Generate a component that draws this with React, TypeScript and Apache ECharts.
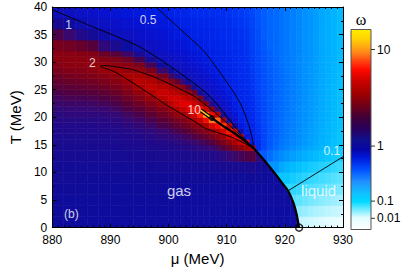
import React, { useEffect, useRef } from 'react';
import * as echarts from 'echarts';

// ---------- data ----------
// cell edges of the omega map (MeV)
const muEdges = [880, 882, 884, 886, 888, 890, 892, 894, 896, 898, 900, 901, 902, 903, 904, 905, 906, 907, 908, 909, 910, 911, 912, 913, 914, 915, 916, 917, 918, 919, 920, 921, 922, 923, 924, 925, 926, 927, 928, 929, 930];
const tEdges = [0, 2, 4, 6, 8, 10, 12, 14, 15, 16, 17, 18, 19, 20, 21, 22, 23, 24, 25, 26, 27, 28, 29, 30, 31, 32, 34, 36, 38, 40];

// omega, west part (mu 880..915): one array per column, cells from T = 0-2 up to T = 38-40
const omegaWestColumns: number[][] = [
  [1.23, 1.24, 1.26, 1.27, 1.29, 1.31, 1.34, 1.36, 1.38, 1.4, 1.42, 1.44, 1.47, 1.49, 1.52, 1.56, 1.59, 1.63, 1.68, 1.72, 1.77, 1.83, 1.89, 1.95, 1.92, 1.82, 1.63, 1.35, 1.02], // 881
  [1.23, 1.24, 1.25, 1.27, 1.29, 1.31, 1.34, 1.36, 1.38, 1.4, 1.42, 1.44, 1.47, 1.5, 1.53, 1.57, 1.61, 1.65, 1.69, 1.75, 1.8, 1.86, 1.93, 1.96, 1.92, 1.79, 1.55, 1.23, 0.93], // 883
  [1.23, 1.24, 1.25, 1.26, 1.28, 1.3, 1.33, 1.355, 1.37, 1.39, 1.42, 1.44, 1.47, 1.5, 1.53, 1.57, 1.61, 1.66, 1.71, 1.76, 1.82, 1.89, 1.96, 1.96, 1.9, 1.74, 1.45, 1.07, 0.85], // 885
  [1.22, 1.23, 1.25, 1.26, 1.28, 1.3, 1.33, 1.35, 1.37, 1.39, 1.415, 1.44, 1.47, 1.5, 1.54, 1.58, 1.62, 1.67, 1.73, 1.79, 1.85, 1.93, 2.0, 1.95, 1.87, 1.67, 1.32, 0.93, 0.8], // 887
  [1.22, 1.23, 1.24, 1.26, 1.27, 1.3, 1.33, 1.35, 1.37, 1.39, 1.42, 1.45, 1.48, 1.51, 1.55, 1.6, 1.645, 1.7, 1.76, 1.83, 1.905, 2.08, 2.05, 1.89, 1.76, 1.51, 1.11, 0.85, 0.72], // 889
  [1.22, 1.23, 1.24, 1.25, 1.27, 1.3, 1.33, 1.355, 1.375, 1.4, 1.43, 1.46, 1.49, 1.53, 1.58, 1.63, 1.68, 1.75, 1.82, 1.9, 1.99, 2.3, 1.97, 1.84, 1.68, 1.38, 0.96, 0.8, 0.66], // 891
  [1.22, 1.23, 1.24, 1.26, 1.28, 1.3, 1.34, 1.37, 1.395, 1.42, 1.46, 1.49, 1.535, 1.58, 1.64, 1.7, 1.765, 1.84, 1.93, 2.11, 2.6, 2.06, 1.93, 1.77, 1.57, 1.19, 0.88, 0.72, 0.61], // 893
  [1.21, 1.22, 1.24, 1.26, 1.28, 1.31, 1.35, 1.38, 1.41, 1.44, 1.48, 1.52, 1.57, 1.63, 1.69, 1.77, 1.85, 2.0, 2.5, 3.0, 2.5, 2.02, 1.82, 1.61, 1.37, 0.98, 0.8, 0.67, 0.57], // 895
  [1.21, 1.22, 1.24, 1.26, 1.28, 1.31, 1.36, 1.4, 1.43, 1.47, 1.51, 1.565, 1.62, 1.69, 1.77, 1.86, 2.05, 2.75, 3.4, 2.75, 2.15, 1.83, 1.61, 1.34, 1.03, 0.88, 0.73, 0.62, 0.53], // 897
  [1.21, 1.22, 1.24, 1.26, 1.28, 1.32, 1.37, 1.42, 1.455, 1.5, 1.55, 1.62, 1.69, 1.77, 1.87, 2.1, 3.0, 3.9, 2.95, 2.2, 1.82, 1.56, 1.25, 0.976, 0.9, 0.8, 0.68, 0.58, 0.5], // 899
  [1.21, 1.22, 1.23, 1.25, 1.28, 1.32, 1.37, 1.43, 1.47, 1.52, 1.59, 1.66, 1.75, 1.85, 2.1, 3.0, 4.3, 3.4, 2.4, 1.88, 1.6, 1.24, 0.967, 0.89, 0.818, 0.72, 0.61, 0.52, 0.48], // 900.5
  [1.2, 1.21, 1.23, 1.25, 1.28, 1.32, 1.38, 1.44, 1.49, 1.55, 1.62, 1.7, 1.8, 2.02, 2.6, 4.2, 4.3, 2.9, 2.1, 1.74, 1.38, 0.99, 0.909, 0.834, 0.764, 0.67, 0.57, 0.49, 0.47], // 901.5
  [1.2, 1.21, 1.23, 1.25, 1.28, 1.32, 1.38, 1.45, 1.505, 1.57, 1.65, 1.75, 1.86, 2.0, 3.5, 5.0, 3.8, 2.4, 1.86, 1.53, 1.1, 0.931, 0.852, 0.78, 0.714, 0.62, 0.52, 0.48, 0.46], // 902.5
  [1.2, 1.21, 1.22, 1.25, 1.28, 1.32, 1.39, 1.465, 1.53, 1.6, 1.69, 1.8, 1.94, 2.9, 4.86, 4.98, 3.2, 2.1, 1.66, 1.21, 0.947, 0.864, 0.789, 0.72, 0.657, 0.57, 0.49, 0.47, 0.45], // 903.5
  [1.2, 1.21, 1.22, 1.24, 1.28, 1.33, 1.4, 1.485, 1.555, 1.64, 1.75, 1.88, 2.5, 4.23, 6.2, 4.02, 2.4, 1.77, 1.29, 0.955, 0.871, 0.795, 0.725, 0.661, 0.604, 0.53, 0.48, 0.46, 0.44], // 904.5
  [1.2, 1.21, 1.22, 1.24, 1.28, 1.33, 1.41, 1.5, 1.58, 1.68, 1.81, 1.96, 3.49, 7.0, 6.26, 2.65, 1.83, 1.32, 0.955, 0.872, 0.796, 0.727, 0.663, 0.605, 0.553, 0.49, 0.47, 0.455, 0.44], // 905.5
  [1.19, 1.2, 1.22, 1.24, 1.27, 1.33, 1.42, 1.52, 1.62, 1.73, 1.88, 2.53, 6.05, 10.5, 3.97, 1.9, 1.39, 0.962, 0.873, 0.792, 0.719, 0.653, 0.593, 0.538, 0.497, 0.48, 0.465, 0.45, 0.435], // 906.5
  [1.19, 1.2, 1.21, 1.24, 1.27, 1.33, 1.44, 1.55, 1.66, 1.81, 1.99, 4.49, 9.5, 6.19, 1.92, 1.41, 0.959, 0.865, 0.779, 0.702, 0.632, 0.569, 0.514, 0.49, 0.48, 0.47, 0.455, 0.445, 0.43], // 907.5
  [1.19, 1.2, 1.21, 1.23, 1.27, 1.34, 1.46, 1.6, 1.74, 1.91, 2.94, 6.1, 9.0, 3.0, 1.5, 0.966, 0.862, 0.768, 0.685, 0.611, 0.545, 0.495, 0.485, 0.475, 0.47, 0.46, 0.45, 0.44, 0.425], // 908.5
  [1.19, 1.2, 1.21, 1.23, 1.27, 1.35, 1.49, 1.66, 1.83, 2.22, 4.47, 7.98, 2.6, 1.29, 0.922, 0.82, 0.73, 0.65, 0.578, 0.515, 0.49, 0.48, 0.47, 0.465, 0.46, 0.45, 0.44, 0.43, 0.42], // 909.5
  [1.19, 1.19, 1.2, 1.23, 1.27, 1.36, 1.53, 1.75, 1.97, 3.49, 6.58, 3.5, 1.2, 0.86, 0.758, 0.668, 0.589, 0.52, 0.49, 0.48, 0.47, 0.465, 0.46, 0.455, 0.45, 0.44, 0.43, 0.42, 0.41], // 910.5
  [1.19, 1.19, 1.2, 1.22, 1.27, 1.36, 1.56, 1.85, 2.56, 5.21, 6.0, 1.3, 0.753, 0.63, 0.527, 0.49, 0.48, 0.47, 0.465, 0.46, 0.455, 0.45, 0.445, 0.44, 0.435, 0.43, 0.42, 0.41, 0.4], // 911.5
  [1.19, 1.19, 1.2, 1.22, 1.26, 1.36, 1.6, 1.97, 3.95, 6.0, 1.1, 0.552, 0.49, 0.48, 0.47, 0.465, 0.46, 0.455, 0.45, 0.445, 0.44, 0.435, 0.43, 0.425, 0.42, 0.42, 0.41, 0.4, 0.39], // 912.5
  [1.19, 1.19, 1.2, 1.21, 1.25, 1.36, 1.63, 2.42, 6.0, 0.6, 0.49, 0.48, 0.47, 0.465, 0.46, 0.455, 0.45, 0.445, 0.44, 0.435, 0.43, 0.425, 0.42, 0.415, 0.41, 0.41, 0.4, 0.39, 0.38], // 913.5
  [1.185, 1.19, 1.2, 1.23, 1.28, 1.4, 1.68, 3.0, 0.5, 0.48, 0.47, 0.46, 0.45, 0.44, 0.435, 0.425, 0.42, 0.41, 0.405, 0.4, 0.395, 0.39, 0.385, 0.383, 0.38, 0.375, 0.37, 0.365, 0.36], // 914.5
];

// omega, east part (mu 915..930, cell centres 915.5 .. 929.5): one array per row, from T = 0-2 up to T = 38-40
const omegaEastRows: number[][] = [
  [1.19, 1.19, 1.19, 1.19, 1.19, 1.19, 1.19, 0.026, 0.023, 0.021, 0.019, 0.017, 0.015, 0.014, 0.013], // 0-2
  [1.19, 1.19, 1.19, 1.19, 1.19, 1.19, 1.19, 0.045, 0.04, 0.036, 0.033, 0.03, 0.027, 0.025, 0.023], // 2-4
  [1.2, 1.2, 1.2, 1.2, 1.2, 1.2, 0.072, 0.066, 0.06, 0.055, 0.05, 0.046, 0.042, 0.039, 0.036], // 4-6
  [1.21, 1.21, 1.21, 1.21, 1.21, 1.21, 0.095, 0.088, 0.082, 0.076, 0.071, 0.066, 0.061, 0.057, 0.053], // 6-8
  [1.26, 1.24, 1.23, 1.22, 1.22, 0.13, 0.118, 0.108, 0.101, 0.094, 0.088, 0.082, 0.077, 0.072, 0.068], // 8-10
  [1.33, 1.28, 1.26, 0.21, 0.18, 0.162, 0.148, 0.137, 0.128, 0.12, 0.113, 0.106, 0.1, 0.094, 0.089], // 10-12
  [1.5, 0.32, 0.28, 0.25, 0.228, 0.21, 0.194, 0.18, 0.168, 0.157, 0.147, 0.138, 0.13, 0.122, 0.115], // 12-14
  [0.43, 0.355, 0.315, 0.285, 0.262, 0.242, 0.224, 0.208, 0.194, 0.18, 0.167, 0.155, 0.144, 0.135, 0.126], // 14-15
  [0.42, 0.362, 0.325, 0.296, 0.273, 0.253, 0.235, 0.219, 0.204, 0.19, 0.176, 0.164, 0.152, 0.142, 0.132], // 15-16
  [0.412, 0.365, 0.33, 0.302, 0.279, 0.259, 0.241, 0.224, 0.209, 0.194, 0.18, 0.167, 0.155, 0.144, 0.134], // 16-17
  [0.407, 0.363, 0.33, 0.304, 0.282, 0.262, 0.244, 0.227, 0.212, 0.197, 0.183, 0.17, 0.158, 0.147, 0.137], // 17-18
  [0.402, 0.36, 0.33, 0.305, 0.283, 0.264, 0.246, 0.229, 0.214, 0.199, 0.185, 0.171, 0.159, 0.148, 0.138], // 18-19
  [0.397, 0.358, 0.329, 0.305, 0.284, 0.265, 0.248, 0.231, 0.216, 0.201, 0.187, 0.173, 0.161, 0.15, 0.14], // 19-20
  [0.392, 0.356, 0.328, 0.304, 0.285, 0.266, 0.249, 0.232, 0.217, 0.202, 0.188, 0.174, 0.161, 0.15, 0.14], // 20-21
  [0.387, 0.354, 0.327, 0.304, 0.285, 0.267, 0.25, 0.233, 0.218, 0.203, 0.189, 0.175, 0.162, 0.151, 0.141], // 21-22
  [0.383, 0.352, 0.326, 0.303, 0.285, 0.267, 0.25, 0.234, 0.219, 0.204, 0.19, 0.176, 0.163, 0.152, 0.142], // 22-23
  [0.379, 0.349, 0.324, 0.303, 0.285, 0.268, 0.251, 0.235, 0.22, 0.205, 0.191, 0.177, 0.164, 0.153, 0.143], // 23-24
  [0.375, 0.347, 0.323, 0.302, 0.285, 0.268, 0.252, 0.236, 0.221, 0.206, 0.192, 0.178, 0.165, 0.154, 0.144], // 24-25
  [0.371, 0.344, 0.322, 0.301, 0.285, 0.268, 0.252, 0.236, 0.221, 0.207, 0.193, 0.179, 0.166, 0.155, 0.145], // 25-26
  [0.367, 0.341, 0.321, 0.3, 0.285, 0.268, 0.252, 0.236, 0.221, 0.207, 0.193, 0.179, 0.167, 0.156, 0.146], // 26-27
  [0.364, 0.339, 0.319, 0.299, 0.284, 0.267, 0.252, 0.236, 0.221, 0.208, 0.194, 0.18, 0.168, 0.157, 0.147], // 27-28
  [0.362, 0.337, 0.317, 0.297, 0.282, 0.266, 0.251, 0.235, 0.22, 0.209, 0.195, 0.18, 0.169, 0.158, 0.148], // 28-29
  [0.36, 0.335, 0.315, 0.295, 0.28, 0.265, 0.25, 0.235, 0.22, 0.21, 0.195, 0.18, 0.17, 0.16, 0.15], // 29-30
  [0.357, 0.332, 0.312, 0.292, 0.275, 0.265, 0.25, 0.235, 0.22, 0.21, 0.195, 0.18, 0.17, 0.16, 0.15], // 30-31
  [0.355, 0.33, 0.31, 0.29, 0.275, 0.265, 0.25, 0.235, 0.22, 0.21, 0.195, 0.18, 0.17, 0.16, 0.15], // 31-32
  [0.35, 0.325, 0.3, 0.29, 0.275, 0.265, 0.25, 0.235, 0.22, 0.21, 0.195, 0.18, 0.17, 0.16, 0.15], // 32-34
  [0.345, 0.315, 0.3, 0.29, 0.275, 0.265, 0.25, 0.235, 0.22, 0.21, 0.195, 0.18, 0.17, 0.16, 0.15], // 34-36
  [0.335, 0.315, 0.3, 0.29, 0.275, 0.265, 0.25, 0.235, 0.22, 0.21, 0.195, 0.18, 0.17, 0.16, 0.15], // 36-38
  [0.335, 0.315, 0.3, 0.29, 0.275, 0.265, 0.25, 0.235, 0.22, 0.21, 0.195, 0.18, 0.17, 0.16, 0.15], // 38-40
];

// contour lines
const contour1Mu = [880, 887, 894.8, 899.5, 903.06, 906.36, 908.3, 910.0, 911.87, 913.3, 914.6];
const contour1T = [39.5, 36.4, 32.9, 29.8, 27.2, 24.5, 22.4, 20.2, 17.7, 15.9, 14.4];
const contour05Mu = [897.8, 902, 905.8, 907.19, 909.67, 912.3, 913.8, 914.45, 914.6];
const contour05T = [40, 36.0, 32.3, 30.5, 26.9, 22.6, 18.6, 15.8, 14.4];
const contour2Mu = [893.7, 898, 902, 904.7, 908.6, 913, 914.6, 910.8, 906.4, 904.7, 900, 896.4, 891, 889, 888.3, 889, 890, 893.7];
const contour2T = [28.7, 27.1, 25.1, 23.6, 20.3, 16.1, 14.4, 16.4, 17.96, 19.1, 22, 24.5, 28.1, 28.95, 29.25, 29.4, 29.3, 28.7];
const contour01Mu = [920.6, 930];
const contour01T = [6.7, 12.85];
const contour10Mu = [905.5, 907.3];
const contour10T = [21.3, 19.95];

// thick line: along the ridge to the critical point, then the phase boundary
const ridgeMu = [907.47, 909.7, 911.87, 914.6];
const ridgeT = [19.86, 18.2, 16.7, 14.4];
const boundaryMu = [914.6, 916.0, 917.4, 918.6, 919.6, 920.6, 921.5, 922.05, 922.35, 922.45];
const boundaryT = [14.4, 12.75, 11.0, 9.4, 8.0, 6.6, 4.4, 2.3, 0.5, 0];
const dotMu = [907.47];
const dotT = [19.86];
const endMu = [922.45];
const endT = [0];

// annotations
const labelTexts = ['1', '0.5', '2', '10', '0.1', 'liquid', 'gas', '(b)'];
const labelMu = [882.8, 896.5, 886.9, 904.4, 928.1, 925.8, 901.8, 883.3];
const labelT = [36.8, 37.7, 29.9, 21.3, 13.8, 6.8, 6.8, 2.5];

// colour bar tick labels
const colorbarLabels = ['10', '1', '0.1', '0.01'];

// ---------- helpers ----------
const FONT = '"Liberation Sans", Arial, Helvetica, sans-serif';

const cmapStops: [number, string][] = [
  [0, '#ffffff'], [0.01, '#f6ffff'], [0.015, '#e4fcff'], [0.025, '#c4f6ff'], [0.04, '#98eeff'],
  [0.06, '#6ae6ff'], [0.08, '#44ddff'], [0.1, '#28d4ff'], [0.13, '#08c6ff'], [0.16, '#00b4ff'],
  [0.2, '#009cff'], [0.25, '#0080ff'], [0.3, '#0064ff'], [0.36, '#0046fa'], [0.42, '#002ef0'],
  [0.5, '#001ce2'], [0.7, '#0812d0'], [1.0, '#1010b8'], [1.25, '#0e0c9a'], [1.45, '#220a88'],
  [1.55, '#380870'], [1.65, '#500040'], [1.75, '#680028'], [1.85, '#800018'], [1.95, '#8c0010'],
  [2.05, '#960008'], [2.5, '#a80000'], [3, '#b80000'], [4, '#cc0000'], [5, '#e00000'],
  [6, '#f00800'], [7, '#ff2000'], [8.5, '#ff5010'], [10, '#ff9020'], [12, '#ffc830'], [14, '#ffe840'],
];

function hexRgb(h: string): number[] {
  return [parseInt(h.slice(1, 3), 16), parseInt(h.slice(3, 5), 16), parseInt(h.slice(5, 7), 16)];
}
const cmapRgb = cmapStops.map(([v, c]) => [v, hexRgb(c)] as [number, number[]]);

function omegaColor(w: number): string {
  if (w <= cmapRgb[0][0]) return cmapStops[0][1];
  for (let k = 0; k < cmapRgb.length - 1; k++) {
    const [a, ca] = cmapRgb[k];
    const [b, cb] = cmapRgb[k + 1];
    if (w <= b) {
      const t = (w - a) / (b - a);
      const c = ca.map((x, i) => Math.round(x + t * (cb[i] - x)));
      return `rgb(${c[0]},${c[1]},${c[2]})`;
    }
  }
  return cmapStops[cmapStops.length - 1][1];
}

const nWest = omegaWestColumns.length;
function omegaAt(i: number, j: number): number {
  return i < nWest ? omegaWestColumns[i][j] : omegaEastRows[j][i - nWest];
}

function boundaryMuAt(T: number): number {
  if (T >= boundaryT[0]) return boundaryMu[0];
  for (let k = 0; k < boundaryT.length - 1; k++) {
    const t0 = boundaryT[k];
    const t1 = boundaryT[k + 1];
    if (T <= t0 && T >= t1) {
      const f = (t0 - T) / (t0 - t1);
      return boundaryMu[k] + f * (boundaryMu[k + 1] - boundaryMu[k]);
    }
  }
  return boundaryMu[boundaryMu.length - 1];
}

function clip(pts: number[][], f: (p: number[]) => number): number[][] {
  const out: number[][] = [];
  for (let k = 0; k < pts.length; k++) {
    const p = pts[k];
    const q = pts[(k + 1) % pts.length];
    const fp = f(p);
    const fq = f(q);
    if (fp >= 0) out.push(p);
    if ((fp >= 0) !== (fq >= 0)) {
      const t = fp / (fp - fq);
      out.push([p[0] + t * (q[0] - p[0]), p[1] + t * (q[1] - p[1])]);
    }
  }
  return out;
}

type Poly = { pts: number[][]; w: number };

function buildPolys(): Poly[] {
  const polys: Poly[] = [];
  const nCols = muEdges.length - 1;
  const nRows = tEdges.length - 1;
  for (let j = 0; j < nRows; j++) {
    const T0 = tEdges[j];
    const T1 = tEdges[j + 1];
    const split = T1 <= boundaryT[0];
    let lastGas = 1.2;
    let firstLiq = 0.1;
    if (split) {
      for (let i = 0; i < nCols; i++) if (omegaAt(i, j) > 1) lastGas = omegaAt(i, j);
      for (let i = nCols - 1; i >= 0; i--) if (omegaAt(i, j) <= 1) firstLiq = omegaAt(i, j);
    }
    const m0 = boundaryMuAt(T0);
    const m1 = boundaryMuAt(T1);
    const lineMu = (T: number) => m0 + ((T - T0) * (m1 - m0)) / (T1 - T0);
    for (let i = 0; i < nCols; i++) {
      const x0 = muEdges[i];
      const x1 = muEdges[i + 1];
      const w = omegaAt(i, j);
      const rect = [[x0, T0], [x1, T0], [x1, T1], [x0, T1]];
      if (!split) {
        polys.push({ pts: rect, w });
        continue;
      }
      const gasPart = clip(rect, (p) => lineMu(p[1]) - p[0]);
      const liqPart = clip(rect, (p) => p[0] - lineMu(p[1]));
      const isGas = w > 1;
      if (gasPart.length >= 3) polys.push({ pts: gasPart, w: isGas ? w : lastGas });
      if (liqPart.length >= 3) polys.push({ pts: liqPart, w: isGas ? firstLiq : w });
    }
  }
  return polys;
}

const pairs = (xs: number[], ys: number[]) => xs.map((x, i) => [x, ys[i]]);

function lineSeries(xs: number[], ys: number[], width: number, color: string, z: number, smooth: number | boolean = 0.3) {
  return {
    type: 'line',
    data: pairs(xs, ys),
    showSymbol: false,
    symbol: 'none',
    smooth,
    silent: true,
    z,
    lineStyle: { color, width },
    clip: true,
  };
}

function buildOption() {
  const polys = buildPolys();
  const thickMu = ridgeMu.concat(boundaryMu.slice(1));
  const thickT = ridgeT.concat(boundaryT.slice(1));

  const axisCommon = {
    z: 10,
    axisLine: { onZero: false, lineStyle: { color: '#000', width: 1 } },
    axisTick: { inside: true, length: 4, lineStyle: { color: '#000', width: 1 } },
    splitLine: { show: false },
  };

  const barX = 351;
  const barY = 29.5;
  const barW = 20;
  const barH = 200;
  const tickFrac = [0.1, 0.583, 0.858, 0.944];

  const grad = new echarts.graphic.LinearGradient(0, 0, 0, 1, [
    { offset: 0, color: '#ffec00' },
    { offset: 0.04, color: '#ffd800' },
    { offset: 0.08, color: '#ffb010' },
    { offset: 0.12, color: '#ff8018' },
    { offset: 0.16, color: '#ff4010' },
    { offset: 0.2, color: '#ff0a00' },
    { offset: 0.26, color: '#c80000' },
    { offset: 0.32, color: '#a00000' },
    { offset: 0.38, color: '#700018' },
    { offset: 0.44, color: '#400038' },
    { offset: 0.5, color: '#280060' },
    { offset: 0.55, color: '#10108c' },
    { offset: 0.6, color: '#0606a8' },
    { offset: 0.64, color: '#0018d8' },
    { offset: 0.7, color: '#0050ff' },
    { offset: 0.76, color: '#2090ff' },
    { offset: 0.82, color: '#10c0ff' },
    { offset: 0.86, color: '#00d8ff' },
    { offset: 0.9, color: '#70ecff' },
    { offset: 0.94, color: '#e0fcff' },
    { offset: 1, color: '#ffffff' },
  ]);

  const graphic: any[] = [
    {
      type: 'rect',
      shape: { x: barX, y: barY, width: barW, height: barH },
      style: { fill: grad, stroke: '#555', lineWidth: 1 },
      z: 10,
    },
    {
      type: 'text',
      x: barX + barW / 2,
      y: 19,
      style: {
        text: 'ω',
        fill: '#000',
        font: '16px "Liberation Serif", "DejaVu Serif", serif',
        align: 'center',
        verticalAlign: 'middle',
        textAlign: 'center',
        textVerticalAlign: 'middle',
      },
      z: 10,
    },
  ];
  colorbarLabels.forEach((t, k) => {
    const y = barY + tickFrac[k] * barH;
    graphic.push({
      type: 'line',
      shape: { x1: barX + barW, y1: y, x2: barX + barW + 4, y2: y },
      style: { stroke: '#333', lineWidth: 1 },
      z: 10,
    });
    graphic.push({
      type: 'text',
      x: barX + barW + 6,
      y,
      style: {
        text: t,
        fill: '#000',
        font: `12px ${FONT}`,
        align: 'left',
        verticalAlign: 'middle',
        textAlign: 'left',
        textVerticalAlign: 'middle',
      },
      z: 10,
    });
  });

  return {
    animation: false,
    backgroundColor: '#ffffff',
    grid: { left: 40.5, right: 64, top: 7, bottom: 41.7, containLabel: false },
    xAxis: [
      {
        ...axisCommon,
        type: 'value',
        min: 880,
        max: 930,
        interval: 10,
        position: 'bottom',
        minorTick: { show: true, splitNumber: 10, length: 2, lineStyle: { color: '#000', width: 1 } },
        minorSplitLine: { show: false },
        axisLabel: { color: '#000', fontSize: 12, fontFamily: FONT, margin: 6.5, lineHeight: 12 },
        name: 'μ (MeV)',
        nameLocation: 'middle',
        nameGap: 22,
        nameTextStyle: { color: '#000', fontSize: 15, fontFamily: FONT },
      },
      {
        ...axisCommon,
        type: 'value',
        min: 880,
        max: 930,
        interval: 10,
        position: 'top',
        minorTick: { show: true, splitNumber: 10, length: 2, lineStyle: { color: '#000', width: 1 } },
        axisLabel: { show: false },
      },
    ],
    yAxis: [
      {
        ...axisCommon,
        type: 'value',
        min: 0,
        max: 40,
        interval: 5,
        position: 'left',
        minorTick: { show: true, splitNumber: 2, length: 2, lineStyle: { color: '#000', width: 1 } },
        axisLabel: { color: '#000', fontSize: 12, fontFamily: FONT, margin: 5, lineHeight: 12 },
        name: 'T (MeV)',
        nameLocation: 'middle',
        nameGap: 21,
        nameRotate: 90,
        nameTextStyle: { color: '#000', fontSize: 15, fontFamily: FONT },
      },
      {
        ...axisCommon,
        type: 'value',
        min: 0,
        max: 40,
        interval: 5,
        position: 'right',
        minorTick: { show: true, splitNumber: 2, length: 2, lineStyle: { color: '#000', width: 1 } },
        axisLabel: { show: false },
      },
    ],
    series: [
      {
        type: 'custom',
        silent: true,
        clip: true,
        z: 1,
        encode: { x: 0, y: 1 },
        data: polys.map((p) => {
          const cx = p.pts.reduce((s, q) => s + q[0], 0) / p.pts.length;
          const cy = p.pts.reduce((s, q) => s + q[1], 0) / p.pts.length;
          return [cx, cy];
        }),
        renderItem: (params: any, api: any) => {
          const p = polys[params.dataIndex];
          const pts = p.pts.map((q) => api.coord(q));
          const c = omegaColor(p.w);
          return {
            type: 'polygon',
            shape: { points: pts },
            style: { fill: c, stroke: c, lineWidth: 0.6 },
          };
        },
      },
      lineSeries(contour1Mu, contour1T, 0.9, '#000', 3),
      lineSeries(contour05Mu, contour05T, 0.9, '#000', 3),
      lineSeries(contour2Mu, contour2T, 0.9, '#000', 3, 0.35),
      lineSeries(contour01Mu, contour01T, 0.9, '#000', 3, false),
      lineSeries(thickMu, thickT, 2.3, '#000', 4, 0.2),
      lineSeries(contour10Mu, contour10T, 4, '#000', 4, false),
      lineSeries(contour10Mu, contour10T, 1.6, '#ffc820', 5, false),
      {
        type: 'scatter',
        silent: true,
        z: 6,
        clip: false,
        symbolSize: 6,
        itemStyle: { color: '#000' },
        data: pairs(dotMu, dotT),
      },
      {
        type: 'scatter',
        silent: true,
        z: 12,
        clip: false,
        symbolSize: 7,
        itemStyle: { color: 'rgba(0,0,0,0)', borderColor: '#000', borderWidth: 1.5 },
        data: pairs(endMu, endT),
      },
      {
        type: 'scatter',
        silent: true,
        z: 7,
        clip: false,
        symbolSize: 1,
        itemStyle: { color: 'rgba(0,0,0,0)' },
        label: { show: true, position: 'inside', formatter: '{b}', color: '#ffffff', fontFamily: FONT },
        data: labelTexts.map((t, i) => ({
          name: t,
          value: [labelMu[i], labelT[i]],
          label: { fontSize: t === 'gas' || t === 'liquid' ? 15 : 12 },
        })),
      },
    ],
    graphic,
  };
}

export default function App() {
  const ref = useRef<HTMLDivElement>(null);
  useEffect(() => {
    if (!ref.current) return;
    const chart = echarts.init(ref.current, null, { renderer: 'svg' });
    chart.setOption(buildOption() as any);
    return () => chart.dispose();
  }, []);
  return (
    <div
      ref={ref}
      style={{ position: 'absolute', left: 0, top: 0, width: 407, height: 271, background: '#fff' }}
    />
  );
}
